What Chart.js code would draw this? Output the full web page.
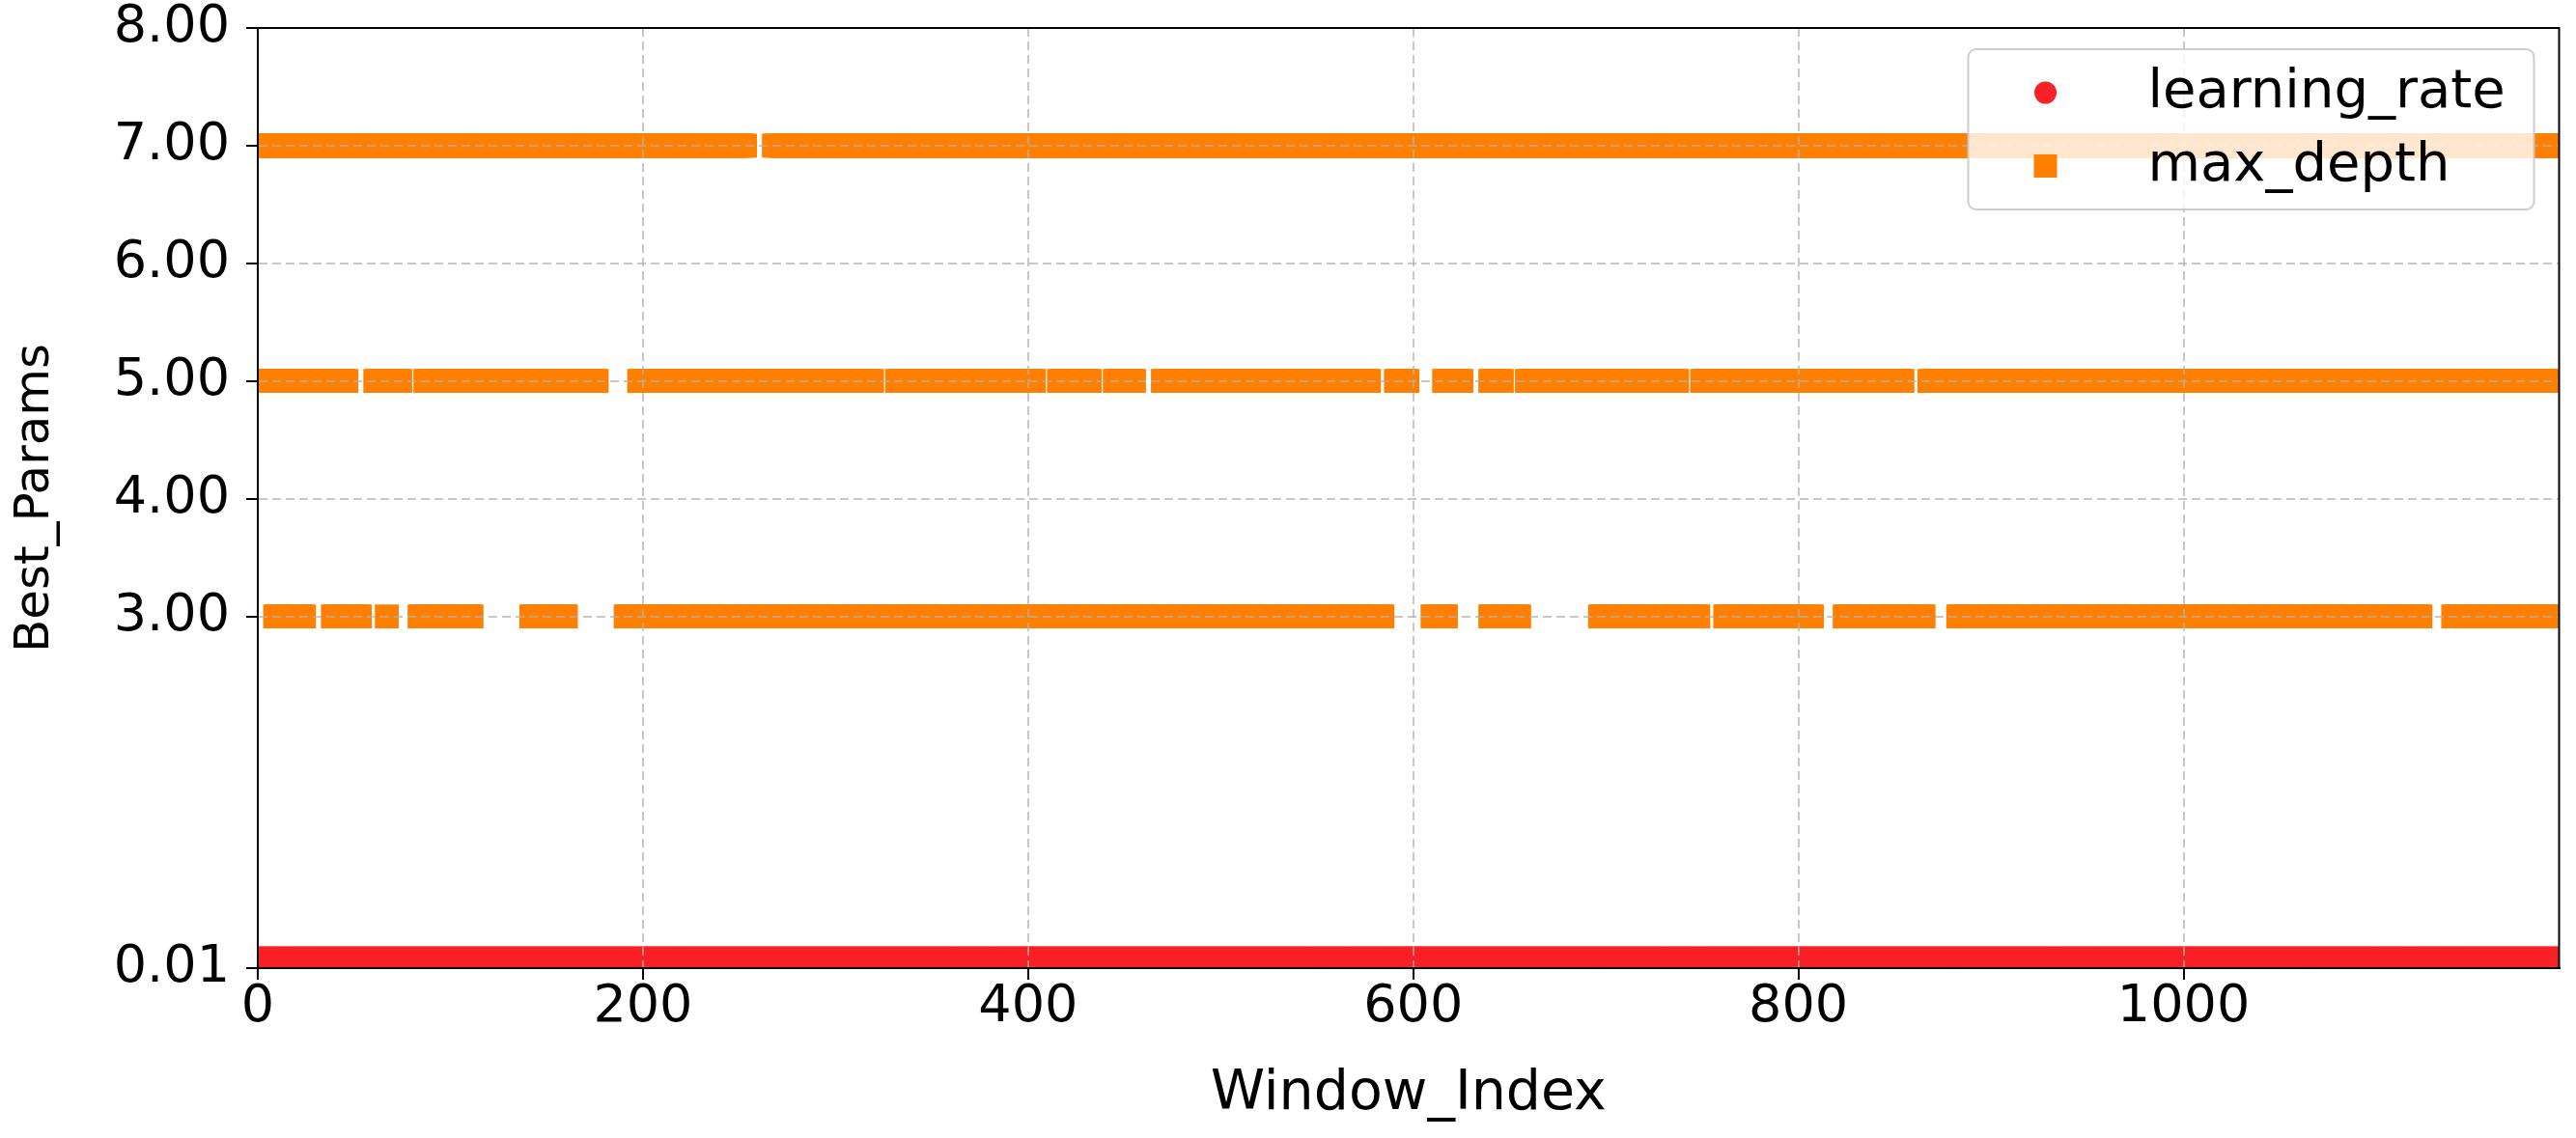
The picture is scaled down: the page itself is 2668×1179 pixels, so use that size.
<!DOCTYPE html>
<html>
<head>
<meta charset="utf-8">
<script src="https://cdn.jsdelivr.net/npm/chart.js@4.4.1/dist/chart.umd.min.js"></script>
<style>
    html, body { margin: 0; padding: 0; background: #fff; }
    #wrap { width: 2668px; height: 1179px; }
</style>
</head>
<body>
<div id="wrap"><canvas id="chart" width="2668" height="1179"></canvas></div>
<script>
// axis ticks
var xTicks = [0, 200, 400, 600, 800, 1000];
var yTicks = [0.01, 3, 4, 5, 6, 7, 8];
var xMax = 1195;

// learning_rate: same value on every window
var learningRateValue = 0.1;
var learningRateRuns = [[0, 1195]];

// max_depth: runs of window indexes [first, last] where that depth was chosen
var depth3Runs = [[9, 24], [39, 53], [67, 67], [84, 111], [142, 160], [191, 584],
    [610, 617], [640, 655], [697, 748], [762, 807], [824, 865], [883, 1123], [1140, 1195]];
var depth5Runs = [[0, 46], [61, 74], [87, 176], [198, 319], [332, 403], [416, 432],
    [445, 455], [470, 577], [591, 597], [616, 625], [640, 646], [659, 737], [750, 854], [868, 1195]];
var depth7Runs = [[0, 253], [268, 1195]];

var FONT = '"DejaVu Sans", "Liberation Sans", sans-serif';
var RED = 'rgb(248, 33, 38)';
var ORANGE = 'rgb(255, 128, 0)';

var runsToPoints = function (runs, y) {
    var pts = [];
    runs.forEach(function (r) {
        for (var i = r[0]; i <= r[1]; i++) {
            pts.push({ x: i, y: y });
        }
    });
    return pts;
};

var lrPoints = runsToPoints(learningRateRuns, learningRateValue);
var depthPoints = runsToPoints(depth3Runs, 3)
    .concat(runsToPoints(depth5Runs, 5))
    .concat(runsToPoints(depth7Runs, 7));

// box round the plot (top and right spines too)
var frame = {
    id: 'frame',
    afterDraw: function (chart) {
        var a = chart.chartArea, ctx = chart.ctx;
        ctx.save();
        ctx.strokeStyle = '#000';
        ctx.lineWidth = 2;
        ctx.strokeRect(a.left, a.top, a.right - a.left, a.bottom - a.top);
        ctx.restore();
    }
};

// matplotlib-like legend inside the upper right corner
var insideLegend = {
    id: 'insideLegend',
    afterDraw: function (chart) {
        var a = chart.chartArea, ctx = chart.ctx;
        var w = 586, h = 166;
        var x = a.right - 26 - w, y = a.top + 22;
        ctx.save();
        ctx.beginPath();
        ctx.roundRect(x, y, w, h, 8);
        ctx.fillStyle = 'rgba(255, 255, 255, 0.8)';
        ctx.fill();
        ctx.lineWidth = 2;
        ctx.strokeStyle = 'rgba(200, 200, 200, 0.9)';
        ctx.stroke();

        var rows = [y + 45, y + 121];
        ctx.fillStyle = RED;
        ctx.beginPath();
        ctx.arc(x + 80, rows[0], 11.5, 0, Math.PI * 2);
        ctx.fill();
        ctx.fillStyle = ORANGE;
        ctx.fillRect(x + 80 - 12, rows[1] - 12, 24, 24);

        ctx.fillStyle = '#000';
        ctx.font = '56px ' + FONT;
        ctx.textBaseline = 'middle';
        ctx.textAlign = 'left';
        chart.data.datasets.forEach(function (ds, i) {
            ctx.fillText(ds.label, x + 186, rows[i]);
        });
        ctx.restore();
    }
};

var gridOpts = {
    z: 1,
    color: 'rgba(176, 176, 176, 0.7)',
    lineWidth: 2,
    tickColor: '#000',
    tickLength: 12,
    tickWidth: 2
};

var showChart = new Chart(document.getElementById('chart').getContext('2d'), {
    type: 'scatter',
    data: {
        datasets: [{
            label: 'learning_rate',
            data: lrPoints,
            pointStyle: 'circle',
            pointRadius: 11.5,
            pointBackgroundColor: RED,
            pointBorderWidth: 0,
            clip: 0
        }, {
            label: 'max_depth',
            data: depthPoints,
            pointStyle: 'rect',
            pointRadius: 17.5,
            pointBackgroundColor: ORANGE,
            pointBorderWidth: 0,
            clip: 0
        }]
    },
    options: {
        responsive: false,
        animation: false,
        devicePixelRatio: 1,
        layout: { padding: { top: 29, right: 14, left: 0, bottom: 0 } },
        plugins: {
            legend: { display: false },
            tooltip: { enabled: false }
        },
        scales: {
            x: {
                type: 'linear',
                min: 0,
                max: xMax,
                afterBuildTicks: function (scale) {
                    scale.ticks = xTicks.map(function (v) { return { value: v }; });
                },
                afterFit: function (scale) {
                    scale.height = 176;
                    scale.paddingLeft = 0;
                    scale.paddingRight = 0;
                },
                ticks: {
                    color: '#000',
                    padding: 2,
                    maxRotation: 0,
                    font: { family: FONT, size: 54, lineHeight: 1 },
                    callback: function (v) { return String(v); }
                },
                grid: gridOpts,
                border: { z: 2, color: '#000', width: 2, dash: [9, 5] },
                title: {
                    display: true,
                    text: 'Window_Index',
                    color: '#000',
                    font: { family: FONT, size: 57, lineHeight: 1.2 },
                    padding: { top: 0, bottom: 11 }
                }
            },
            y: {
                type: 'linear',
                min: 0.01,
                max: 8,
                afterBuildTicks: function (scale) {
                    scale.ticks = yTicks.map(function (v) { return { value: v }; });
                },
                afterFit: function (scale) {
                    scale.width = 267;
                    scale.paddingTop = 0;
                    scale.paddingBottom = 0;
                },
                ticks: {
                    color: '#000',
                    padding: 17,
                    font: { family: FONT, size: 54, lineHeight: 1 },
                    callback: function (v) { return Number(v).toFixed(2); }
                },
                grid: gridOpts,
                border: { z: 2, color: '#000', width: 2, dash: [9, 5] },
                title: {
                    display: true,
                    text: 'Best_Params',
                    color: '#000',
                    font: { family: FONT, size: 50, lineHeight: 1.2 },
                    padding: { top: 7, bottom: 0 }
                }
            }
        }
    },
    plugins: [frame, insideLegend]
});
</script>
</body>
</html>
